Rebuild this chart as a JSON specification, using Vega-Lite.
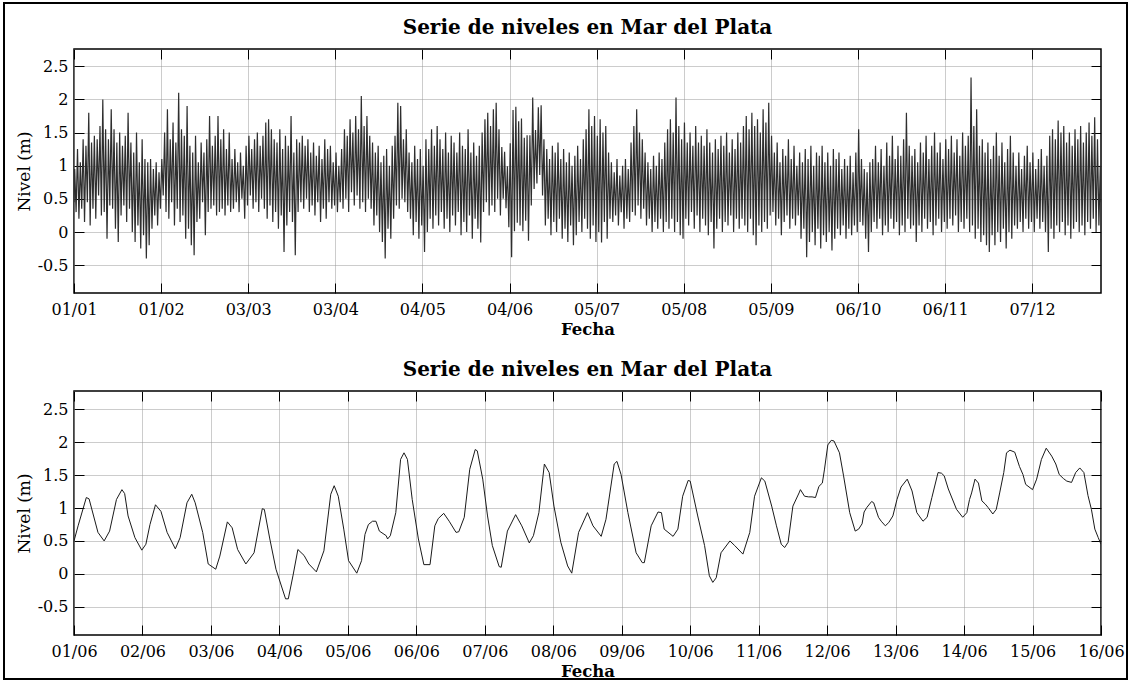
{
"$schema": "https://vega.github.io/schema/vega-lite/v6.json",
"background": "white",
"padding": {"left": 4, "top": 3, "right": 3, "bottom": 3},
"bounds": "flush",
"spacing": 98,
"vconcat": [
{
"title": {"text": "Serie de niveles en Mar del Plata", "baseline": "alphabetic", "offset": -5},
"width": 1027, "height": 244,
"data": {"values": [
{"dia":0,"nivel":0.45},
{"dia":0.25,"nivel":0.95},{"dia":0.75,"nivel":0.3},{"dia":1.25,"nivel":1.25},{"dia":1.75,"nivel":0.2},{"dia":2.25,"nivel":1.05},{"dia":2.75,"nivel":0.35},{"dia":3.25,"nivel":1.4},{"dia":3.75,"nivel":0.15},{"dia":4.25,"nivel":1.3},{"dia":4.75,"nivel":0.45},
{"dia":5.25,"nivel":1.8},{"dia":5.75,"nivel":0.1},{"dia":6.25,"nivel":1.35},{"dia":6.75,"nivel":0.35},{"dia":7.25,"nivel":1.45},{"dia":7.75,"nivel":0.2},{"dia":8.25,"nivel":1.4},{"dia":8.75,"nivel":0.55},{"dia":9.25,"nivel":1.6},{"dia":9.75,"nivel":0.25},
{"dia":10.25,"nivel":2.0},{"dia":10.75,"nivel":0.3},{"dia":11.25,"nivel":1.55},{"dia":11.75,"nivel":-0.1},{"dia":12.25,"nivel":1.4},{"dia":12.75,"nivel":0.4},{"dia":13.25,"nivel":1.85},{"dia":13.75,"nivel":0.35},{"dia":14.25,"nivel":1.55},{"dia":14.75,"nivel":0.05},
{"dia":15.25,"nivel":1.35},{"dia":15.75,"nivel":-0.15},{"dia":16.25,"nivel":1.5},{"dia":16.75,"nivel":0.25},{"dia":17.25,"nivel":1.3},{"dia":17.75,"nivel":0.4},{"dia":18.25,"nivel":1.45},{"dia":18.75,"nivel":0.15},{"dia":19.25,"nivel":1.8},{"dia":19.75,"nivel":0.35},
{"dia":20.25,"nivel":1.35},{"dia":20.75,"nivel":0.0},{"dia":21.25,"nivel":1.2},{"dia":21.75,"nivel":-0.15},{"dia":22.25,"nivel":1.5},{"dia":22.75,"nivel":0.1},{"dia":23.25,"nivel":1.05},{"dia":23.75,"nivel":-0.25},{"dia":24.25,"nivel":1.4},{"dia":24.75,"nivel":-0.05},
{"dia":25.25,"nivel":1.1},{"dia":25.75,"nivel":-0.4},{"dia":26.25,"nivel":1.05},{"dia":26.75,"nivel":-0.2},{"dia":27.25,"nivel":1.1},{"dia":27.75,"nivel":0.05},{"dia":28.25,"nivel":0.95},{"dia":28.75,"nivel":0.25},{"dia":29.25,"nivel":1.05},{"dia":29.75,"nivel":0.1},
{"dia":30.25,"nivel":0.9},{"dia":30.75,"nivel":0.35},{"dia":31.25,"nivel":1.1},{"dia":31.75,"nivel":0.55},{"dia":32.25,"nivel":1.5},{"dia":32.75,"nivel":0.3},{"dia":33.25,"nivel":1.85},{"dia":33.75,"nivel":0.2},{"dia":34.25,"nivel":1.4},{"dia":34.75,"nivel":0.45},
{"dia":35.25,"nivel":1.65},{"dia":35.75,"nivel":0.1},{"dia":36.25,"nivel":1.35},{"dia":36.75,"nivel":0.35},{"dia":37.25,"nivel":2.1},{"dia":37.75,"nivel":0.15},{"dia":38.25,"nivel":1.55},{"dia":38.75,"nivel":0.25},{"dia":39.25,"nivel":1.45},{"dia":39.75,"nivel":-0.1},
{"dia":40.25,"nivel":1.9},{"dia":40.75,"nivel":0.05},{"dia":41.25,"nivel":1.3},{"dia":41.75,"nivel":-0.2},{"dia":42.25,"nivel":1.2},{"dia":42.75,"nivel":-0.35},{"dia":43.25,"nivel":1.45},{"dia":43.75,"nivel":0.15},{"dia":44.25,"nivel":1.05},{"dia":44.75,"nivel":0.2},
{"dia":45.25,"nivel":1.35},{"dia":45.75,"nivel":0.45},{"dia":46.25,"nivel":1.2},{"dia":46.75,"nivel":-0.05},{"dia":47.25,"nivel":1.4},{"dia":47.75,"nivel":0.3},{"dia":48.25,"nivel":1.75},{"dia":48.75,"nivel":0.35},{"dia":49.25,"nivel":1.3},{"dia":49.75,"nivel":0.4},
{"dia":50.25,"nivel":1.45},{"dia":50.75,"nivel":0.25},{"dia":51.25,"nivel":1.75},{"dia":51.75,"nivel":0.3},{"dia":52.25,"nivel":1.4},{"dia":52.75,"nivel":0.35},{"dia":53.25,"nivel":1.55},{"dia":53.75,"nivel":0.25},{"dia":54.25,"nivel":1.25},{"dia":54.75,"nivel":0.4},
{"dia":55.25,"nivel":1.5},{"dia":55.75,"nivel":0.3},{"dia":56.25,"nivel":1.1},{"dia":56.75,"nivel":0.35},{"dia":57.25,"nivel":1.25},{"dia":57.75,"nivel":0.45},{"dia":58.25,"nivel":1.05},{"dia":58.75,"nivel":0.3},{"dia":59.25,"nivel":1.2},{"dia":59.75,"nivel":0.5},
{"dia":60.25,"nivel":1.0},{"dia":60.75,"nivel":0.2},{"dia":61.25,"nivel":1.3},{"dia":61.75,"nivel":0.4},{"dia":62.25,"nivel":1.45},{"dia":62.75,"nivel":0.55},{"dia":63.25,"nivel":1.25},{"dia":63.75,"nivel":0.35},{"dia":64.25,"nivel":1.4},{"dia":64.75,"nivel":0.45},
{"dia":65.25,"nivel":1.5},{"dia":65.75,"nivel":0.3},{"dia":66.25,"nivel":1.3},{"dia":66.75,"nivel":0.5},{"dia":67.25,"nivel":1.45},{"dia":67.75,"nivel":0.35},{"dia":68.25,"nivel":1.65},{"dia":68.75,"nivel":0.2},{"dia":69.25,"nivel":1.7},{"dia":69.75,"nivel":0.4},
{"dia":70.25,"nivel":1.55},{"dia":70.75,"nivel":0.15},{"dia":71.25,"nivel":1.4},{"dia":71.75,"nivel":0.3},{"dia":72.25,"nivel":1.35},{"dia":72.75,"nivel":0.05},{"dia":73.25,"nivel":1.55},{"dia":73.75,"nivel":0.25},{"dia":74.25,"nivel":1.25},{"dia":74.75,"nivel":-0.3},
{"dia":75.25,"nivel":1.45},{"dia":75.75,"nivel":0.1},{"dia":76.25,"nivel":1.3},{"dia":76.75,"nivel":0.3},{"dia":77.25,"nivel":1.75},{"dia":77.75,"nivel":0.15},{"dia":78.25,"nivel":1.2},{"dia":78.75,"nivel":-0.35},{"dia":79.25,"nivel":1.4},{"dia":79.75,"nivel":0.3},
{"dia":80.25,"nivel":1.35},{"dia":80.75,"nivel":0.45},{"dia":81.25,"nivel":1.45},{"dia":81.75,"nivel":0.35},{"dia":82.25,"nivel":1.3},{"dia":82.75,"nivel":0.5},{"dia":83.25,"nivel":1.4},{"dia":83.75,"nivel":0.3},{"dia":84.25,"nivel":1.2},{"dia":84.75,"nivel":0.4},
{"dia":85.25,"nivel":1.35},{"dia":85.75,"nivel":0.25},{"dia":86.25,"nivel":1.15},{"dia":86.75,"nivel":0.45},{"dia":87.25,"nivel":1.3},{"dia":87.75,"nivel":0.15},{"dia":88.25,"nivel":1.1},{"dia":88.75,"nivel":0.35},{"dia":89.25,"nivel":1.4},{"dia":89.75,"nivel":0.2},
{"dia":90.25,"nivel":1.25},{"dia":90.75,"nivel":0.45},{"dia":91.25,"nivel":1.3},{"dia":91.75,"nivel":0.35},{"dia":92.25,"nivel":1.05},{"dia":92.75,"nivel":0.4},{"dia":93.25,"nivel":1.2},{"dia":93.75,"nivel":0.3},{"dia":94.25,"nivel":1.0},{"dia":94.75,"nivel":0.45},
{"dia":95.25,"nivel":1.25},{"dia":95.75,"nivel":0.35},{"dia":96.25,"nivel":1.55},{"dia":96.75,"nivel":0.5},{"dia":97.25,"nivel":1.45},{"dia":97.75,"nivel":0.3},{"dia":98.25,"nivel":1.7},{"dia":98.75,"nivel":0.6},{"dia":99.25,"nivel":1.5},{"dia":99.75,"nivel":0.4},
{"dia":100.25,"nivel":1.75},{"dia":100.75,"nivel":0.55},{"dia":101.25,"nivel":1.55},{"dia":101.75,"nivel":0.35},{"dia":102.25,"nivel":2.05},{"dia":102.75,"nivel":0.45},{"dia":103.25,"nivel":1.6},{"dia":103.75,"nivel":0.3},{"dia":104.25,"nivel":1.75},{"dia":104.75,"nivel":0.5},
{"dia":105.25,"nivel":1.45},{"dia":105.75,"nivel":0.35},{"dia":106.25,"nivel":1.35},{"dia":106.75,"nivel":0.1},{"dia":107.25,"nivel":1.2},{"dia":107.75,"nivel":0.25},{"dia":108.25,"nivel":1.3},{"dia":108.75,"nivel":0.0},{"dia":109.25,"nivel":1.05},{"dia":109.75,"nivel":-0.15},
{"dia":110.25,"nivel":1.15},{"dia":110.75,"nivel":-0.4},{"dia":111.25,"nivel":1.25},{"dia":111.75,"nivel":0.05},{"dia":112.25,"nivel":1.0},{"dia":112.75,"nivel":-0.1},{"dia":113.25,"nivel":1.3},{"dia":113.75,"nivel":0.2},{"dia":114.25,"nivel":1.45},{"dia":114.75,"nivel":0.4},
{"dia":115.25,"nivel":1.95},{"dia":115.75,"nivel":0.35},{"dia":116.25,"nivel":1.9},{"dia":116.75,"nivel":0.5},{"dia":117.25,"nivel":1.4},{"dia":117.75,"nivel":0.45},{"dia":118.25,"nivel":1.55},{"dia":118.75,"nivel":0.3},{"dia":119.25,"nivel":1.2},{"dia":119.75,"nivel":0.2},
{"dia":120.25,"nivel":1.05},{"dia":120.75,"nivel":-0.05},{"dia":121.25,"nivel":1.3},{"dia":121.75,"nivel":0.15},{"dia":122.25,"nivel":1.1},{"dia":122.75,"nivel":-0.1},{"dia":123.25,"nivel":1.25},{"dia":123.75,"nivel":0.1},{"dia":124.25,"nivel":1.0},{"dia":124.75,"nivel":-0.3},
{"dia":125.25,"nivel":1.4},{"dia":125.75,"nivel":0.0},{"dia":126.25,"nivel":1.25},{"dia":126.75,"nivel":0.2},{"dia":127.25,"nivel":1.55},{"dia":127.75,"nivel":0.05},{"dia":128.25,"nivel":1.3},{"dia":128.75,"nivel":0.25},{"dia":129.25,"nivel":1.6},{"dia":129.75,"nivel":0.1},
{"dia":130.25,"nivel":1.4},{"dia":130.75,"nivel":0.3},{"dia":131.25,"nivel":1.25},{"dia":131.75,"nivel":0.05},{"dia":132.25,"nivel":1.5},{"dia":132.75,"nivel":0.2},{"dia":133.25,"nivel":1.2},{"dia":133.75,"nivel":0.0},{"dia":134.25,"nivel":1.45},{"dia":134.75,"nivel":0.25},
{"dia":135.25,"nivel":1.35},{"dia":135.75,"nivel":0.1},{"dia":136.25,"nivel":1.2},{"dia":136.75,"nivel":0.3},{"dia":137.25,"nivel":1.5},{"dia":137.75,"nivel":-0.05},{"dia":138.25,"nivel":1.3},{"dia":138.75,"nivel":0.15},{"dia":139.25,"nivel":1.25},{"dia":139.75,"nivel":0.0},
{"dia":140.25,"nivel":1.55},{"dia":140.75,"nivel":0.25},{"dia":141.25,"nivel":1.2},{"dia":141.75,"nivel":-0.1},{"dia":142.25,"nivel":1.35},{"dia":142.75,"nivel":0.2},{"dia":143.25,"nivel":1.15},{"dia":143.75,"nivel":0.05},{"dia":144.25,"nivel":1.3},{"dia":144.75,"nivel":-0.16},
{"dia":145.25,"nivel":1.5},{"dia":145.75,"nivel":0.3},{"dia":146.25,"nivel":1.7},{"dia":146.75,"nivel":0.45},{"dia":147.25,"nivel":1.8},{"dia":147.75,"nivel":0.25},{"dia":148.25,"nivel":1.6},{"dia":148.75,"nivel":0.4},{"dia":149.25,"nivel":1.85},{"dia":149.75,"nivel":0.3},
{"dia":150.25,"nivel":1.95},{"dia":150.75,"nivel":0.5},{"dia":151.25,"nivel":1.55},{"dia":151.75,"nivel":0.25},{"dia":152.25,"nivel":1.28},{"dia":152.75,"nivel":0.5},{"dia":153.25,"nivel":1.21},{"dia":153.75,"nivel":0.36},{"dia":154.25,"nivel":0.99},{"dia":154.75,"nivel":0.07},
{"dia":155.25,"nivel":1.34},{"dia":155.75,"nivel":-0.38},{"dia":156.25,"nivel":1.84},{"dia":156.75,"nivel":0.01},{"dia":157.25,"nivel":1.89},{"dia":157.75,"nivel":0.14},{"dia":158.25,"nivel":1.67},{"dia":158.75,"nivel":0.1},{"dia":159.25,"nivel":1.71},{"dia":159.75,"nivel":0.01},
{"dia":160.25,"nivel":1.42},{"dia":160.75,"nivel":0.17},{"dia":161.25,"nivel":1.46},{"dia":161.75,"nivel":-0.13},{"dia":162.25,"nivel":1.46},{"dia":162.75,"nivel":0.4},{"dia":163.25,"nivel":2.03},{"dia":163.75,"nivel":0.65},{"dia":164.25,"nivel":1.54},{"dia":164.75,"nivel":0.73},
{"dia":165.25,"nivel":1.88},{"dia":165.75,"nivel":0.86},{"dia":166.25,"nivel":1.91},{"dia":166.75,"nivel":0.55},{"dia":167.25,"nivel":1.4},{"dia":167.75,"nivel":0.1},{"dia":168.25,"nivel":1.25},{"dia":168.75,"nivel":0.2},{"dia":169.25,"nivel":1.1},{"dia":169.75,"nivel":-0.05},
{"dia":170.25,"nivel":1.3},{"dia":170.75,"nivel":0.15},{"dia":171.25,"nivel":1.2},{"dia":171.75,"nivel":0.0},{"dia":172.25,"nivel":1.35},{"dia":172.75,"nivel":0.2},{"dia":173.25,"nivel":1.1},{"dia":173.75,"nivel":-0.1},{"dia":174.25,"nivel":1.25},{"dia":174.75,"nivel":0.05},
{"dia":175.25,"nivel":1.05},{"dia":175.75,"nivel":-0.15},{"dia":176.25,"nivel":1.2},{"dia":176.75,"nivel":0.1},{"dia":177.25,"nivel":1.0},{"dia":177.75,"nivel":-0.2},{"dia":178.25,"nivel":1.15},{"dia":178.75,"nivel":-0.05},{"dia":179.25,"nivel":1.3},{"dia":179.75,"nivel":0.15},
{"dia":180.25,"nivel":1.1},{"dia":180.75,"nivel":0.0},{"dia":181.25,"nivel":1.4},{"dia":181.75,"nivel":0.2},{"dia":182.25,"nivel":1.55},{"dia":182.75,"nivel":0.05},{"dia":183.25,"nivel":1.85},{"dia":183.75,"nivel":-0.1},{"dia":184.25,"nivel":1.6},{"dia":184.75,"nivel":0.1},
{"dia":185.25,"nivel":1.75},{"dia":185.75,"nivel":-0.15},{"dia":186.25,"nivel":1.45},{"dia":186.75,"nivel":0.0},{"dia":187.25,"nivel":1.7},{"dia":187.75,"nivel":-0.16},{"dia":188.25,"nivel":1.5},{"dia":188.75,"nivel":0.15},{"dia":189.25,"nivel":1.6},{"dia":189.75,"nivel":-0.1},
{"dia":190.25,"nivel":1.2},{"dia":190.75,"nivel":0.2},{"dia":191.25,"nivel":1.05},{"dia":191.75,"nivel":0.15},{"dia":192.25,"nivel":0.9},{"dia":192.75,"nivel":0.25},{"dia":193.25,"nivel":1.1},{"dia":193.75,"nivel":0.1},{"dia":194.25,"nivel":0.85},{"dia":194.75,"nivel":0.3},
{"dia":195.25,"nivel":1.0},{"dia":195.75,"nivel":0.05},{"dia":196.25,"nivel":1.1},{"dia":196.75,"nivel":0.2},{"dia":197.25,"nivel":0.95},{"dia":197.75,"nivel":0.15},{"dia":198.25,"nivel":1.35},{"dia":198.75,"nivel":0.3},{"dia":199.25,"nivel":1.6},{"dia":199.75,"nivel":0.25},
{"dia":200.25,"nivel":1.85},{"dia":200.75,"nivel":0.4},{"dia":201.25,"nivel":1.5},{"dia":201.75,"nivel":0.2},{"dia":202.25,"nivel":1.4},{"dia":202.75,"nivel":0.35},{"dia":203.25,"nivel":1.2},{"dia":203.75,"nivel":0.1},{"dia":204.25,"nivel":1.05},{"dia":204.75,"nivel":0.2},
{"dia":205.25,"nivel":0.95},{"dia":205.75,"nivel":0.0},{"dia":206.25,"nivel":1.15},{"dia":206.75,"nivel":0.15},{"dia":207.25,"nivel":1.0},{"dia":207.75,"nivel":0.05},{"dia":208.25,"nivel":1.2},{"dia":208.75,"nivel":0.2},{"dia":209.25,"nivel":1.1},{"dia":209.75,"nivel":0.0},
{"dia":210.25,"nivel":1.35},{"dia":210.75,"nivel":0.15},{"dia":211.25,"nivel":1.55},{"dia":211.75,"nivel":0.05},{"dia":212.25,"nivel":1.7},{"dia":212.75,"nivel":0.2},{"dia":213.25,"nivel":1.5},{"dia":213.75,"nivel":0.0},{"dia":214.25,"nivel":2.03},{"dia":214.75,"nivel":0.15},
{"dia":215.25,"nivel":1.6},{"dia":215.75,"nivel":-0.05},{"dia":216.25,"nivel":1.4},{"dia":216.75,"nivel":-0.1},{"dia":217.25,"nivel":1.65},{"dia":217.75,"nivel":0.2},{"dia":218.25,"nivel":1.35},{"dia":218.75,"nivel":0.1},{"dia":219.25,"nivel":1.5},{"dia":219.75,"nivel":0.3},
{"dia":220.25,"nivel":1.3},{"dia":220.75,"nivel":0.05},{"dia":221.25,"nivel":1.6},{"dia":221.75,"nivel":0.25},{"dia":222.25,"nivel":1.35},{"dia":222.75,"nivel":0.0},{"dia":223.25,"nivel":1.45},{"dia":223.75,"nivel":0.2},{"dia":224.25,"nivel":1.3},{"dia":224.75,"nivel":0.1},
{"dia":225.25,"nivel":1.55},{"dia":225.75,"nivel":-0.05},{"dia":226.25,"nivel":1.35},{"dia":226.75,"nivel":0.15},{"dia":227.25,"nivel":1.2},{"dia":227.75,"nivel":-0.25},{"dia":228.25,"nivel":1.4},{"dia":228.75,"nivel":0.05},{"dia":229.25,"nivel":1.25},{"dia":229.75,"nivel":0.2},
{"dia":230.25,"nivel":1.45},{"dia":230.75,"nivel":0.0},{"dia":231.25,"nivel":1.3},{"dia":231.75,"nivel":0.15},{"dia":232.25,"nivel":1.5},{"dia":232.75,"nivel":0.1},{"dia":233.25,"nivel":1.2},{"dia":233.75,"nivel":0.25},{"dia":234.25,"nivel":1.4},{"dia":234.75,"nivel":0.0},
{"dia":235.25,"nivel":1.25},{"dia":235.75,"nivel":0.2},{"dia":236.25,"nivel":1.5},{"dia":236.75,"nivel":0.05},{"dia":237.25,"nivel":1.35},{"dia":237.75,"nivel":0.2},{"dia":238.25,"nivel":1.6},{"dia":238.75,"nivel":0.1},{"dia":239.25,"nivel":1.75},{"dia":239.75,"nivel":0.0},
{"dia":240.25,"nivel":1.55},{"dia":240.75,"nivel":0.2},{"dia":241.25,"nivel":1.8},{"dia":241.75,"nivel":-0.05},{"dia":242.25,"nivel":1.6},{"dia":242.75,"nivel":-0.2},{"dia":243.25,"nivel":1.7},{"dia":243.75,"nivel":0.1},{"dia":244.25,"nivel":1.5},{"dia":244.75,"nivel":0.0},
{"dia":245.25,"nivel":1.85},{"dia":245.75,"nivel":0.15},{"dia":246.25,"nivel":1.65},{"dia":246.75,"nivel":0.05},{"dia":247.25,"nivel":1.95},{"dia":247.75,"nivel":0.25},{"dia":248.25,"nivel":1.45},{"dia":248.75,"nivel":0.3},{"dia":249.25,"nivel":1.2},{"dia":249.75,"nivel":0.1},
{"dia":250.25,"nivel":1.35},{"dia":250.75,"nivel":0.2},{"dia":251.25,"nivel":1.05},{"dia":251.75,"nivel":-0.05},{"dia":252.25,"nivel":1.25},{"dia":252.75,"nivel":0.15},{"dia":253.25,"nivel":1.15},{"dia":253.75,"nivel":0.25},{"dia":254.25,"nivel":1.4},{"dia":254.75,"nivel":0.05},
{"dia":255.25,"nivel":1.1},{"dia":255.75,"nivel":0.2},{"dia":256.25,"nivel":1.3},{"dia":256.75,"nivel":0.1},{"dia":257.25,"nivel":1.0},{"dia":257.75,"nivel":0.25},{"dia":258.25,"nivel":1.2},{"dia":258.75,"nivel":-0.1},{"dia":259.25,"nivel":1.05},{"dia":259.75,"nivel":0.05},
{"dia":260.25,"nivel":1.25},{"dia":260.75,"nivel":-0.38},{"dia":261.25,"nivel":1.1},{"dia":261.75,"nivel":-0.15},{"dia":262.25,"nivel":1.3},{"dia":262.75,"nivel":0.0},{"dia":263.25,"nivel":1.0},{"dia":263.75,"nivel":-0.2},{"dia":264.25,"nivel":1.2},{"dia":264.75,"nivel":0.05},
{"dia":265.25,"nivel":1.15},{"dia":265.75,"nivel":-0.25},{"dia":266.25,"nivel":1.3},{"dia":266.75,"nivel":-0.05},{"dia":267.25,"nivel":1.05},{"dia":267.75,"nivel":-0.15},{"dia":268.25,"nivel":1.2},{"dia":268.75,"nivel":0.0},{"dia":269.25,"nivel":1.0},{"dia":269.75,"nivel":-0.28},
{"dia":270.25,"nivel":1.25},{"dia":270.75,"nivel":-0.1},{"dia":271.25,"nivel":1.1},{"dia":271.75,"nivel":0.05},{"dia":272.25,"nivel":1.2},{"dia":272.75,"nivel":-0.05},{"dia":273.25,"nivel":0.95},{"dia":273.75,"nivel":0.1},{"dia":274.25,"nivel":1.1},{"dia":274.75,"nivel":-0.1},
{"dia":275.25,"nivel":1.0},{"dia":275.75,"nivel":0.05},{"dia":276.25,"nivel":1.15},{"dia":276.75,"nivel":-0.05},{"dia":277.25,"nivel":0.9},{"dia":277.75,"nivel":0.1},{"dia":278.25,"nivel":1.2},{"dia":278.75,"nivel":0.0},{"dia":279.25,"nivel":1.55},{"dia":279.75,"nivel":0.15},
{"dia":280.25,"nivel":1.1},{"dia":280.75,"nivel":0.1},{"dia":281.25,"nivel":0.95},{"dia":281.75,"nivel":-0.1},{"dia":282.25,"nivel":0.9},{"dia":282.75,"nivel":-0.3},{"dia":283.25,"nivel":1.05},{"dia":283.75,"nivel":0.0},{"dia":284.25,"nivel":1.1},{"dia":284.75,"nivel":0.15},
{"dia":285.25,"nivel":1.3},{"dia":285.75,"nivel":0.05},{"dia":286.25,"nivel":1.05},{"dia":286.75,"nivel":0.2},{"dia":287.25,"nivel":1.25},{"dia":287.75,"nivel":-0.05},{"dia":288.25,"nivel":1.0},{"dia":288.75,"nivel":0.1},{"dia":289.25,"nivel":1.35},{"dia":289.75,"nivel":0.0},
{"dia":290.25,"nivel":1.15},{"dia":290.75,"nivel":0.2},{"dia":291.25,"nivel":1.45},{"dia":291.75,"nivel":0.05},{"dia":292.25,"nivel":1.1},{"dia":292.75,"nivel":0.15},{"dia":293.25,"nivel":1.3},{"dia":293.75,"nivel":-0.05},{"dia":294.25,"nivel":1.15},{"dia":294.75,"nivel":0.1},
{"dia":295.25,"nivel":1.4},{"dia":295.75,"nivel":0.0},{"dia":296.25,"nivel":1.8},{"dia":296.75,"nivel":0.2},{"dia":297.25,"nivel":1.3},{"dia":297.75,"nivel":0.05},{"dia":298.25,"nivel":1.15},{"dia":298.75,"nivel":0.1},{"dia":299.25,"nivel":1.25},{"dia":299.75,"nivel":-0.15},
{"dia":300.25,"nivel":1.05},{"dia":300.75,"nivel":0.1},{"dia":301.25,"nivel":1.35},{"dia":301.75,"nivel":0.0},{"dia":302.25,"nivel":1.2},{"dia":302.75,"nivel":0.2},{"dia":303.25,"nivel":1.45},{"dia":303.75,"nivel":0.05},{"dia":304.25,"nivel":1.1},{"dia":304.75,"nivel":0.15},
{"dia":305.25,"nivel":1.3},{"dia":305.75,"nivel":-0.05},{"dia":306.25,"nivel":1.5},{"dia":306.75,"nivel":0.1},{"dia":307.25,"nivel":1.2},{"dia":307.75,"nivel":0.2},{"dia":308.25,"nivel":1.35},{"dia":308.75,"nivel":0.0},{"dia":309.25,"nivel":1.1},{"dia":309.75,"nivel":0.15},
{"dia":310.25,"nivel":1.4},{"dia":310.75,"nivel":0.05},{"dia":311.25,"nivel":1.25},{"dia":311.75,"nivel":0.2},{"dia":312.25,"nivel":1.45},{"dia":312.75,"nivel":0.1},{"dia":313.25,"nivel":1.2},{"dia":313.75,"nivel":0.25},{"dia":314.25,"nivel":1.4},{"dia":314.75,"nivel":0.0},
{"dia":315.25,"nivel":1.15},{"dia":315.75,"nivel":0.15},{"dia":316.25,"nivel":1.5},{"dia":316.75,"nivel":0.05},{"dia":317.25,"nivel":1.3},{"dia":317.75,"nivel":0.2},{"dia":318.25,"nivel":1.45},{"dia":318.75,"nivel":0.0},{"dia":319.25,"nivel":2.33},{"dia":319.75,"nivel":0.1},
{"dia":320.25,"nivel":1.6},{"dia":320.75,"nivel":-0.1},{"dia":321.25,"nivel":1.85},{"dia":321.75,"nivel":0.05},{"dia":322.25,"nivel":1.3},{"dia":322.75,"nivel":-0.15},{"dia":323.25,"nivel":1.4},{"dia":323.75,"nivel":-0.05},{"dia":324.25,"nivel":1.2},{"dia":324.75,"nivel":-0.2},
{"dia":325.25,"nivel":1.35},{"dia":325.75,"nivel":-0.3},{"dia":326.25,"nivel":1.1},{"dia":326.75,"nivel":-0.05},{"dia":327.25,"nivel":1.3},{"dia":327.75,"nivel":-0.2},{"dia":328.25,"nivel":1.5},{"dia":328.75,"nivel":0.0},{"dia":329.25,"nivel":1.15},{"dia":329.75,"nivel":-0.15},
{"dia":330.25,"nivel":1.35},{"dia":330.75,"nivel":0.05},{"dia":331.25,"nivel":1.05},{"dia":331.75,"nivel":-0.25},{"dia":332.25,"nivel":1.25},{"dia":332.75,"nivel":0.0},{"dia":333.25,"nivel":1.45},{"dia":333.75,"nivel":-0.1},{"dia":334.25,"nivel":1.2},{"dia":334.75,"nivel":0.1},
{"dia":335.25,"nivel":1.0},{"dia":335.75,"nivel":0.05},{"dia":336.25,"nivel":1.2},{"dia":336.75,"nivel":0.15},{"dia":337.25,"nivel":0.95},{"dia":337.75,"nivel":0.0},{"dia":338.25,"nivel":1.15},{"dia":338.75,"nivel":0.2},{"dia":339.25,"nivel":1.3},{"dia":339.75,"nivel":0.05},
{"dia":340.25,"nivel":1.05},{"dia":340.75,"nivel":0.15},{"dia":341.25,"nivel":1.2},{"dia":341.75,"nivel":0.0},{"dia":342.25,"nivel":0.95},{"dia":342.75,"nivel":0.2},{"dia":343.25,"nivel":1.1},{"dia":343.75,"nivel":0.05},{"dia":344.25,"nivel":1.25},{"dia":344.75,"nivel":0.15},
{"dia":345.25,"nivel":1.0},{"dia":345.75,"nivel":0.0},{"dia":346.25,"nivel":1.15},{"dia":346.75,"nivel":-0.3},{"dia":347.25,"nivel":1.45},{"dia":347.75,"nivel":0.05},{"dia":348.25,"nivel":1.55},{"dia":348.75,"nivel":-0.1},{"dia":349.25,"nivel":1.4},{"dia":349.75,"nivel":0.1},
{"dia":350.25,"nivel":1.68},{"dia":350.75,"nivel":0.0},{"dia":351.25,"nivel":1.5},{"dia":351.75,"nivel":0.15},{"dia":352.25,"nivel":1.6},{"dia":352.75,"nivel":-0.05},{"dia":353.25,"nivel":1.35},{"dia":353.75,"nivel":0.1},{"dia":354.25,"nivel":1.5},{"dia":354.75,"nivel":-0.1},
{"dia":355.25,"nivel":1.3},{"dia":355.75,"nivel":0.05},{"dia":356.25,"nivel":1.55},{"dia":356.75,"nivel":0.15},{"dia":357.25,"nivel":1.4},{"dia":357.75,"nivel":0.0},{"dia":358.25,"nivel":1.6},{"dia":358.75,"nivel":0.1},{"dia":359.25,"nivel":1.35},{"dia":359.75,"nivel":-0.05},
{"dia":360.25,"nivel":1.5},{"dia":360.75,"nivel":0.15},{"dia":361.25,"nivel":1.65},{"dia":361.75,"nivel":0.05},{"dia":362.25,"nivel":1.45},{"dia":362.75,"nivel":0.2},{"dia":363.25,"nivel":1.73},{"dia":363.75,"nivel":0.0},{"dia":364.25,"nivel":1.4},{"dia":364.75,"nivel":0.1},
{"dia":365.25,"nivel":1.0},{"dia":365.5,"nivel":0.45}
]},
"layer": [
{"mark": {"type": "line", "color": "#2e2e2e", "strokeWidth": 1.2, "clip": true},
 "encoding": {
  "x": {"field": "dia", "type": "quantitative", "scale": {"domain": [0, 365.5], "nice": false, "zero": false},
        "axis": {"orient": "bottom", "values": [0,31,62,93,124,155,186,217,248,279,310,341], "labelExpr": "timeFormat(datetime(2012, 0, 1 + datum.value), '%d/%m')", "labelPadding": 18, "title": "Fecha", "titleFontWeight": "bold", "titleFontSize": 16.5, "titlePadding": 4, "grid": true}},
  "y": {"field": "nivel", "type": "quantitative", "scale": {"domain": [-0.92, 2.76], "nice": false, "zero": false},
        "axis": {"orient": "left", "values": [-0.5,0,0.5,1,1.5,2,2.5], "labelExpr": "'' + datum.value", "labelPadding": 16, "title": "Nivel (m)", "titleFontSize": 17, "titleFontWeight": "normal", "titlePadding": 4, "grid": true}}
 }},
{"mark": {"type": "line", "opacity": 0},
 "encoding": {
  "x": {"field": "dia", "type": "quantitative", "axis": {"orient": "top", "values": [0,31,62,93,124,155,186,217,248,279,310,341], "labels": false, "grid": false, "title": null}},
  "y": {"field": "nivel", "type": "quantitative", "axis": {"orient": "right", "values": [-0.5,0,0.5,1,1.5,2,2.5], "labels": false, "grid": false, "title": null}},
  "color": {"field": "nivel", "type": "quantitative", "scale": {"range": ["rgba(255,255,255,0)", "rgba(255,255,255,0)"]},
            "legend": {"orient": "none", "legendX": -70, "legendY": -46, "direction": "horizontal", "gradientLength": 1123, "gradientThickness": 676, "gradientStrokeColor": "#000000", "gradientStrokeWidth": 2, "labelExpr": "''", "labelFontSize": 1, "labelOffset": -20, "title": null, "padding": 0}}
 }}
],
"resolve": {"axis": {"x": "independent", "y": "independent"}}
},
{
"title": {"text": "Serie de niveles en Mar del Plata", "baseline": "alphabetic", "offset": -5},
"width": 1027, "height": 244,
"data": {"values": [
{"dia":0.00,"nivel":0.50},{"dia":0.06,"nivel":0.73},{"dia":0.18,"nivel":1.16},{"dia":0.22,"nivel":1.14},{"dia":0.35,"nivel":0.63},{"dia":0.44,"nivel":0.50},{"dia":0.52,"nivel":0.65},{"dia":0.62,"nivel":1.13},{"dia":0.70,"nivel":1.28},{"dia":0.74,"nivel":1.22},{"dia":0.79,"nivel":0.88},{"dia":0.89,"nivel":0.55},{"dia":0.99,"nivel":0.36},
{"dia":1.05,"nivel":0.45},{"dia":1.11,"nivel":0.75},{"dia":1.19,"nivel":1.05},{"dia":1.27,"nivel":0.95},{"dia":1.36,"nivel":0.63},{"dia":1.48,"nivel":0.38},{"dia":1.55,"nivel":0.55},{"dia":1.65,"nivel":1.08},{"dia":1.72,"nivel":1.21},{"dia":1.77,"nivel":1.08},{"dia":1.88,"nivel":0.63},{"dia":1.96,"nivel":0.15},
{"dia":2.07,"nivel":0.07},{"dia":2.13,"nivel":0.27},{"dia":2.24,"nivel":0.79},{"dia":2.31,"nivel":0.70},{"dia":2.39,"nivel":0.37},{"dia":2.51,"nivel":0.15},{"dia":2.63,"nivel":0.32},{"dia":2.75,"nivel":0.99},{"dia":2.78,"nivel":0.98},{"dia":2.86,"nivel":0.53},{"dia":2.95,"nivel":0.07},
{"dia":3.09,"nivel":-0.38},{"dia":3.13,"nivel":-0.38},{"dia":3.20,"nivel":-0.02},{"dia":3.27,"nivel":0.37},{"dia":3.36,"nivel":0.28},{"dia":3.43,"nivel":0.15},{"dia":3.54,"nivel":0.03},{"dia":3.65,"nivel":0.35},{"dia":3.75,"nivel":1.21},{"dia":3.80,"nivel":1.34},{"dia":3.86,"nivel":1.18},{"dia":3.94,"nivel":0.68},
{"dia":4.01,"nivel":0.20},{"dia":4.13,"nivel":0.01},{"dia":4.20,"nivel":0.20},{"dia":4.25,"nivel":0.60},{"dia":4.30,"nivel":0.75},{"dia":4.36,"nivel":0.80},{"dia":4.41,"nivel":0.80},{"dia":4.46,"nivel":0.65},{"dia":4.56,"nivel":0.58},{"dia":4.58,"nivel":0.53},{"dia":4.62,"nivel":0.58},{"dia":4.70,"nivel":0.93},{"dia":4.77,"nivel":1.74},{"dia":4.82,"nivel":1.84},{"dia":4.87,"nivel":1.74},{"dia":4.94,"nivel":1.13},
{"dia":5.03,"nivel":0.53},{"dia":5.11,"nivel":0.14},{"dia":5.20,"nivel":0.14},{"dia":5.27,"nivel":0.73},{"dia":5.32,"nivel":0.84},{"dia":5.40,"nivel":0.92},{"dia":5.48,"nivel":0.80},{"dia":5.58,"nivel":0.63},{"dia":5.62,"nivel":0.64},{"dia":5.70,"nivel":0.86},{"dia":5.78,"nivel":1.59},{"dia":5.86,"nivel":1.89},{"dia":5.89,"nivel":1.87},{"dia":5.97,"nivel":1.44},
{"dia":6.04,"nivel":0.88},{"dia":6.11,"nivel":0.43},{"dia":6.21,"nivel":0.11},{"dia":6.24,"nivel":0.10},{"dia":6.33,"nivel":0.65},{"dia":6.45,"nivel":0.90},{"dia":6.54,"nivel":0.73},{"dia":6.65,"nivel":0.47},{"dia":6.71,"nivel":0.58},{"dia":6.79,"nivel":0.93},{"dia":6.87,"nivel":1.67},{"dia":6.94,"nivel":1.54},
{"dia":7.01,"nivel":1.03},{"dia":7.11,"nivel":0.48},{"dia":7.21,"nivel":0.12},{"dia":7.27,"nivel":0.01},{"dia":7.37,"nivel":0.63},{"dia":7.50,"nivel":0.93},{"dia":7.58,"nivel":0.73},{"dia":7.70,"nivel":0.57},{"dia":7.77,"nivel":0.83},{"dia":7.89,"nivel":1.67},{"dia":7.93,"nivel":1.71},{"dia":7.99,"nivel":1.51},
{"dia":8.09,"nivel":0.93},{"dia":8.21,"nivel":0.32},{"dia":8.30,"nivel":0.17},{"dia":8.33,"nivel":0.17},{"dia":8.43,"nivel":0.73},{"dia":8.53,"nivel":0.94},{"dia":8.58,"nivel":0.93},{"dia":8.62,"nivel":0.68},{"dia":8.75,"nivel":0.57},{"dia":8.82,"nivel":0.68},{"dia":8.89,"nivel":1.18},{"dia":8.97,"nivel":1.42},
{"dia":9.00,"nivel":1.41},{"dia":9.11,"nivel":0.88},{"dia":9.21,"nivel":0.43},{"dia":9.28,"nivel":-0.03},{"dia":9.33,"nivel":-0.13},{"dia":9.38,"nivel":-0.06},{"dia":9.45,"nivel":0.32},{"dia":9.58,"nivel":0.50},{"dia":9.65,"nivel":0.43},{"dia":9.77,"nivel":0.30},{"dia":9.87,"nivel":0.63},{"dia":9.94,"nivel":1.18},
{"dia":10.04,"nivel":1.46},{"dia":10.09,"nivel":1.41},{"dia":10.19,"nivel":1.03},{"dia":10.26,"nivel":0.73},{"dia":10.33,"nivel":0.45},{"dia":10.38,"nivel":0.40},{"dia":10.43,"nivel":0.48},{"dia":10.50,"nivel":1.03},{"dia":10.59,"nivel":1.23},{"dia":10.61,"nivel":1.28},{"dia":10.67,"nivel":1.18},{"dia":10.73,"nivel":1.17},{"dia":10.78,"nivel":1.17},{"dia":10.83,"nivel":1.16},{"dia":10.88,"nivel":1.33},{"dia":10.93,"nivel":1.38},{"dia":10.96,"nivel":1.58},
{"dia":11.01,"nivel":1.96},{"dia":11.06,"nivel":2.03},{"dia":11.10,"nivel":2.02},{"dia":11.18,"nivel":1.84},{"dia":11.24,"nivel":1.49},{"dia":11.33,"nivel":0.93},{"dia":11.41,"nivel":0.65},{"dia":11.46,"nivel":0.68},{"dia":11.51,"nivel":0.76},{"dia":11.54,"nivel":0.94},{"dia":11.58,"nivel":1.01},{"dia":11.65,"nivel":1.10},{"dia":11.68,"nivel":1.08},{"dia":11.75,"nivel":0.86},{"dia":11.79,"nivel":0.80},{"dia":11.85,"nivel":0.73},{"dia":11.90,"nivel":0.78},{"dia":11.96,"nivel":0.88},
{"dia":12.02,"nivel":1.13},{"dia":12.08,"nivel":1.32},{"dia":12.17,"nivel":1.44},{"dia":12.24,"nivel":1.26},{"dia":12.31,"nivel":0.93},{"dia":12.40,"nivel":0.80},{"dia":12.46,"nivel":0.86},{"dia":12.53,"nivel":1.16},{"dia":12.62,"nivel":1.54},{"dia":12.67,"nivel":1.53},{"dia":12.71,"nivel":1.49},{"dia":12.77,"nivel":1.29},{"dia":12.89,"nivel":0.98},{"dia":12.98,"nivel":0.86},
{"dia":13.04,"nivel":0.93},{"dia":13.08,"nivel":1.13},{"dia":13.11,"nivel":1.23},{"dia":13.16,"nivel":1.44},{"dia":13.21,"nivel":1.38},{"dia":13.26,"nivel":1.11},{"dia":13.31,"nivel":1.06},{"dia":13.35,"nivel":1.01},{"dia":13.42,"nivel":0.91},{"dia":13.47,"nivel":0.98},{"dia":13.52,"nivel":1.23},{"dia":13.58,"nivel":1.54},{"dia":13.62,"nivel":1.84},{"dia":13.67,"nivel":1.88},{"dia":13.74,"nivel":1.85},{"dia":13.81,"nivel":1.63},{"dia":13.86,"nivel":1.51},{"dia":13.90,"nivel":1.36},
{"dia":14.00,"nivel":1.28},{"dia":14.06,"nivel":1.44},{"dia":14.13,"nivel":1.74},{"dia":14.20,"nivel":1.91},{"dia":14.28,"nivel":1.79},{"dia":14.34,"nivel":1.67},{"dia":14.39,"nivel":1.51},{"dia":14.45,"nivel":1.45},{"dia":14.50,"nivel":1.41},{"dia":14.57,"nivel":1.39},{"dia":14.63,"nivel":1.54},{"dia":14.69,"nivel":1.61},{"dia":14.75,"nivel":1.54},{"dia":14.81,"nivel":1.19},{"dia":14.86,"nivel":0.98},{"dia":14.91,"nivel":0.68},{"dia":14.96,"nivel":0.55},{"dia":15.00,"nivel":0.45}
]},
"layer": [
{"mark": {"type": "line", "color": "#1a1a1a", "strokeWidth": 1, "clip": true},
 "encoding": {
  "x": {"field": "dia", "type": "quantitative", "scale": {"domain": [0, 15], "nice": false, "zero": false},
        "axis": {"orient": "bottom", "values": [0,1,2,3,4,5,6,7,8,9,10,11,12,13,14,15], "labelExpr": "timeFormat(datetime(2012, 5, 1 + datum.value), '%d/%m')", "labelPadding": 18, "title": "Fecha", "titleFontWeight": "bold", "titleFontSize": 16.5, "titlePadding": 4, "grid": true}},
  "y": {"field": "nivel", "type": "quantitative", "scale": {"domain": [-0.93, 2.78], "nice": false, "zero": false},
        "axis": {"orient": "left", "values": [-0.5,0,0.5,1,1.5,2,2.5], "labelExpr": "'' + datum.value", "labelPadding": 16, "title": "Nivel (m)", "titleFontSize": 17, "titleFontWeight": "normal", "titlePadding": 4, "grid": true}}
 }},
{"mark": {"type": "line", "opacity": 0},
 "encoding": {
  "x": {"field": "dia", "type": "quantitative", "axis": {"orient": "top", "values": [0,1,2,3,4,5,6,7,8,9,10,11,12,13,14,15], "labels": false, "grid": false, "title": null}},
  "y": {"field": "nivel", "type": "quantitative", "axis": {"orient": "right", "values": [-0.5,0,0.5,1,1.5,2,2.5], "labels": false, "grid": false, "title": null}}
 }}
],
"resolve": {"axis": {"x": "independent", "y": "independent"}}
}
],
"config": {
  "font": "DejaVu Serif",
  "view": {"stroke": "#000000", "strokeWidth": 1.5},
  "axis": {"labelFont": "DejaVu Serif", "labelFontSize": 16, "labelColor": "#000000", "titleFont": "DejaVu Serif", "titleColor": "#000000", "tickColor": "#000000", "tickSize": -10, "tickWidth": 1, "domain": false, "gridColor": "#999999", "gridDash": [1, 1], "gridWidth": 1, "labelFlush": false, "labelOverlap": false},
  "title": {"font": "DejaVu Serif", "fontSize": 20, "fontWeight": "bold", "color": "#000000", "anchor": "middle"}
}
}
